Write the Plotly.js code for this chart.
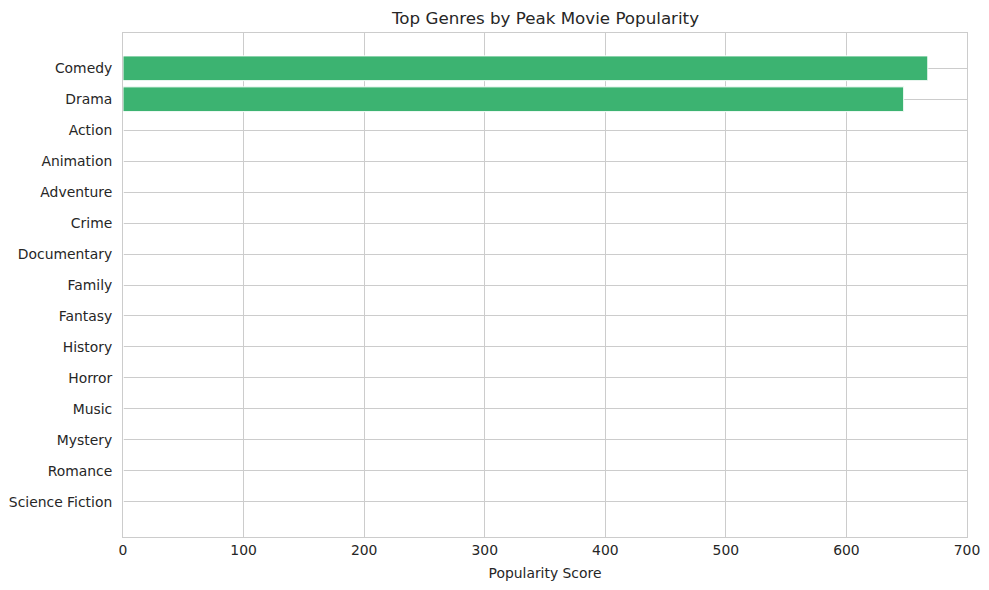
<!DOCTYPE html>
<html>
<head>
<meta charset="utf-8">
<script src="https://cdn.plot.ly/plotly-3.0.1.min.js"></script>
<style>
  html, body { margin: 0; padding: 0; background: #fff; }
  #chart { width: 989px; height: 590px; }
</style>
</head>
<body>
<div id="chart"></div>
<script>
const genres = [
  "Comedy", "Drama", "Action", "Animation", "Adventure", "Crime",
  "Documentary", "Family", "Fantasy", "History", "Horror", "Music",
  "Mystery", "Romance", "Science Fiction"
];
const popularity = [667.5, 647.5, 0, 0, 0, 0, 0, 0, 0, 0, 0, 0, 0, 0, 0];
const xTicks = [0, 100, 200, 300, 400, 500, 600, 700];

const idx = genres.map((g, i) => i);

const trace = {
  type: "bar",
  orientation: "h",
  x: popularity,
  y: idx,
  width: 0.8,
  marker: { color: "#3cb371", line: { color: "#ffffff", width: 1 } },
  hoverinfo: "x+text",
  text: genres,
  textposition: "none",
};

const font = { family: "DejaVu Sans, sans-serif", color: "#262626" };

const layout = {
  width: 989,
  height: 590,
  margin: { l: 123, r: 22, t: 33, b: 53 },
  paper_bgcolor: "#ffffff",
  plot_bgcolor: "#ffffff",
  font: font,
  showlegend: false,
  title: {
    text: "Top Genres by Peak Movie Popularity",
    font: { family: font.family, size: 16.7, color: "#262626" },
    x: 0.5516, xanchor: "center",
    y: 0.969, yanchor: "middle",
  },
  xaxis: {
    range: [0, 700],
    tickvals: xTicks,
    ticktext: xTicks.map(String),
    showgrid: true,
    gridcolor: "#cccccc",
    gridwidth: 1,
    zeroline: false,
    showline: true,
    linecolor: "#cccccc",
    linewidth: 1,
    mirror: true,
    ticks: "",
    tickfont: { family: font.family, size: 13.9, color: "#262626" },
    title: { text: "Popularity Score", font: { family: font.family, size: 13.9, color: "#262626" }, standoff: 11 },
  },
  yaxis: {
    range: [15.14, -1.14],
    tickvals: idx,
    ticktext: genres,
    showgrid: true,
    gridcolor: "#cccccc",
    gridwidth: 1,
    zeroline: false,
    showline: true,
    linecolor: "#cccccc",
    linewidth: 1,
    mirror: true,
    ticks: "",
    ticklabelstandoff: 7,
    tickfont: { family: font.family, size: 13.9, color: "#262626" },
  },
};

Plotly.newPlot("chart", [trace], layout, { displayModeBar: false, staticPlot: true });
</script>
</body>
</html>
